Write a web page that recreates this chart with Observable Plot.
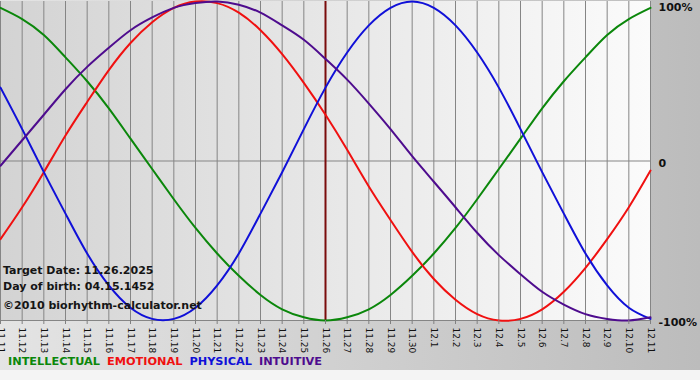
<!DOCTYPE html>
<html><head><meta charset="utf-8">
<script src="https://cdn.jsdelivr.net/npm/d3@7"></script>
<script src="https://cdn.jsdelivr.net/npm/@observablehq/plot@0.6"></script>
<style>
body{margin:0;background:#f4f4f4;}
#wrap{position:relative;width:700px;height:370px;background:linear-gradient(to right,#e4e4e4,#bcbcbc);font-family:"DejaVu Sans",sans-serif;overflow:hidden;}
#chart svg{display:block;background:transparent;}
.note{position:absolute;left:3px;font-weight:bold;font-size:11px;color:#151515;line-height:13px;white-space:nowrap;}
#legend{position:absolute;left:8px;top:355px;font-weight:bold;font-size:11.3px;line-height:14px;white-space:nowrap;}
#legend span{margin-right:7px;}
svg [aria-label="x-axis tick"] path{stroke:#808080;}
</style></head>
<body>
<div id="wrap">
  <div id="chart"></div>
  <div class="note" style="top:264px">Target Date: 11.26.2025</div>
  <div class="note" style="top:280px">Day of birth: 04.15.1452</div>
  <div class="note" style="top:299px">©2010 biorhythm-calculator.net</div>
  <div id="legend"></div>
</div>
<script>
const dayLabels = ["11.11","11.12","11.13","11.14","11.15","11.16","11.17","11.18","11.19","11.20",
  "11.21","11.22","11.23","11.24","11.25","11.26","11.27","11.28","11.29","11.30",
  "12.1","12.2","12.3","12.4","12.5","12.6","12.7","12.8","12.9","12.10","12.11"];
const targetLabel = "11.26";

const intellectual = [0.96,0.89,0.79,0.65,0.50,0.33,0.14,-0.05,-0.24,-0.42,-0.58,-0.72,-0.84,-0.93,-0.98,-1.00,
  -0.98,-0.93,-0.84,-0.72,-0.58,-0.42,-0.24,-0.05,0.14,0.33,0.50,0.65,0.79,0.89,0.96];
const emotional = [-0.49,-0.29,-0.07,0.16,0.37,0.57,0.74,0.87,0.96,1.00,0.99,0.93,0.82,0.67,0.49,0.29,
  0.07,-0.16,-0.37,-0.57,-0.74,-0.87,-0.96,-1.00,-0.99,-0.93,-0.82,-0.67,-0.49,-0.29,-0.06];
const physical = [0.46,0.20,-0.07,-0.33,-0.58,-0.78,-0.92,-0.99,-0.99,-0.92,-0.78,-0.58,-0.33,-0.07,0.20,0.46,
  0.68,0.85,0.96,1.00,0.96,0.85,0.68,0.46,0.20,-0.07,-0.33,-0.58,-0.78,-0.92,-0.99];
const intuitive = [-0.03,0.13,0.29,0.45,0.59,0.71,0.82,0.90,0.96,0.99,1.00,0.98,0.93,0.85,0.76,0.64,
  0.51,0.36,0.20,0.03,-0.13,-0.29,-0.45,-0.59,-0.71,-0.82,-0.90,-0.96,-0.99,-1.00,-0.98];

const seriesNames = ["INTELLECTUAL","EMOTIONAL","PHYSICAL","INTUITIVE"];
const seriesColors = ["#0b870b","#f01010","#1010d8","#4e0c8e"];
const seriesValues = [intellectual, emotional, physical, intuitive];

const yTickValues = [1, 0, -1];
const yTickLabels = ["100%", "0", "-100%"];

const dayIndex = dayLabels.map((_, i) => i);
const rows = seriesNames.flatMap((name, s) => seriesValues[s].map((v, i) => ({series: name, day: i, value: v})));
const targetIndex = dayLabels.indexOf(targetLabel);

function background(index, scales, values, dims) {
  const g = d3.create("svg:g");
  const grad = g.append("defs").append("linearGradient").attr("id", "plotbg")
    .attr("x1", 0).attr("x2", 1).attr("y1", 0).attr("y2", 0);
  grad.append("stop").attr("offset", "0").attr("stop-color", "#d3d3d3");
  grad.append("stop").attr("offset", "1").attr("stop-color", "#fbfbfb");
  g.append("rect")
    .attr("x", dims.marginLeft).attr("y", dims.marginTop)
    .attr("width", dims.width - dims.marginLeft - dims.marginRight)
    .attr("height", dims.height - dims.marginTop - dims.marginBottom)
    .attr("fill", "url(#plotbg)");
  return g.node();
}

const chart = Plot.plot({
  width: 700,
  height: 352,
  marginLeft: 0,
  marginRight: 50,
  marginTop: 1,
  marginBottom: 32,
  style: {fontFamily: "DejaVu Sans, sans-serif", background: "transparent", overflow: "visible"},
  x: {domain: [0, dayLabels.length - 1], axis: null},
  y: {domain: [-1, 1], axis: null},
  color: {domain: seriesNames, range: seriesColors},
  marks: [
    background,
    Plot.ruleX(dayIndex, {stroke: "#858585", strokeWidth: 1}),
    Plot.ruleY([0, -1], {stroke: "#858585", strokeWidth: 1}),
    Plot.ruleX([targetIndex], {stroke: "#7a0c0c", strokeWidth: 2}),
    Plot.line(rows, {x: "day", y: "value", z: "series", stroke: "series", curve: "natural", strokeWidth: 2}),
    Plot.axisX({ticks: dayIndex, tickFormat: i => dayLabels[i], tickRotate: 90, tickSize: 4, tickPadding: 3,
      fontSize: 9, color: "#111", label: null}),
    Plot.text([yTickValues[0]], {y: d => d, text: [yTickLabels[0]], frameAnchor: "right", dx: 8, dy: 6,
      textAnchor: "start", fontWeight: "bold", fontSize: 11, fill: "#111"}),
    Plot.text(yTickValues.slice(1), {y: d => d, text: yTickLabels.slice(1), frameAnchor: "right", dx: 8, dy: 2,
      textAnchor: "start", fontWeight: "bold", fontSize: 11, fill: "#111"})
  ]
});
document.getElementById("chart").appendChild(chart);

const legend = document.getElementById("legend");
seriesNames.forEach((n, i) => {
  const s = document.createElement("span");
  s.textContent = n;
  s.style.color = seriesColors[i];
  legend.appendChild(s);
});
</script>
</body></html>
